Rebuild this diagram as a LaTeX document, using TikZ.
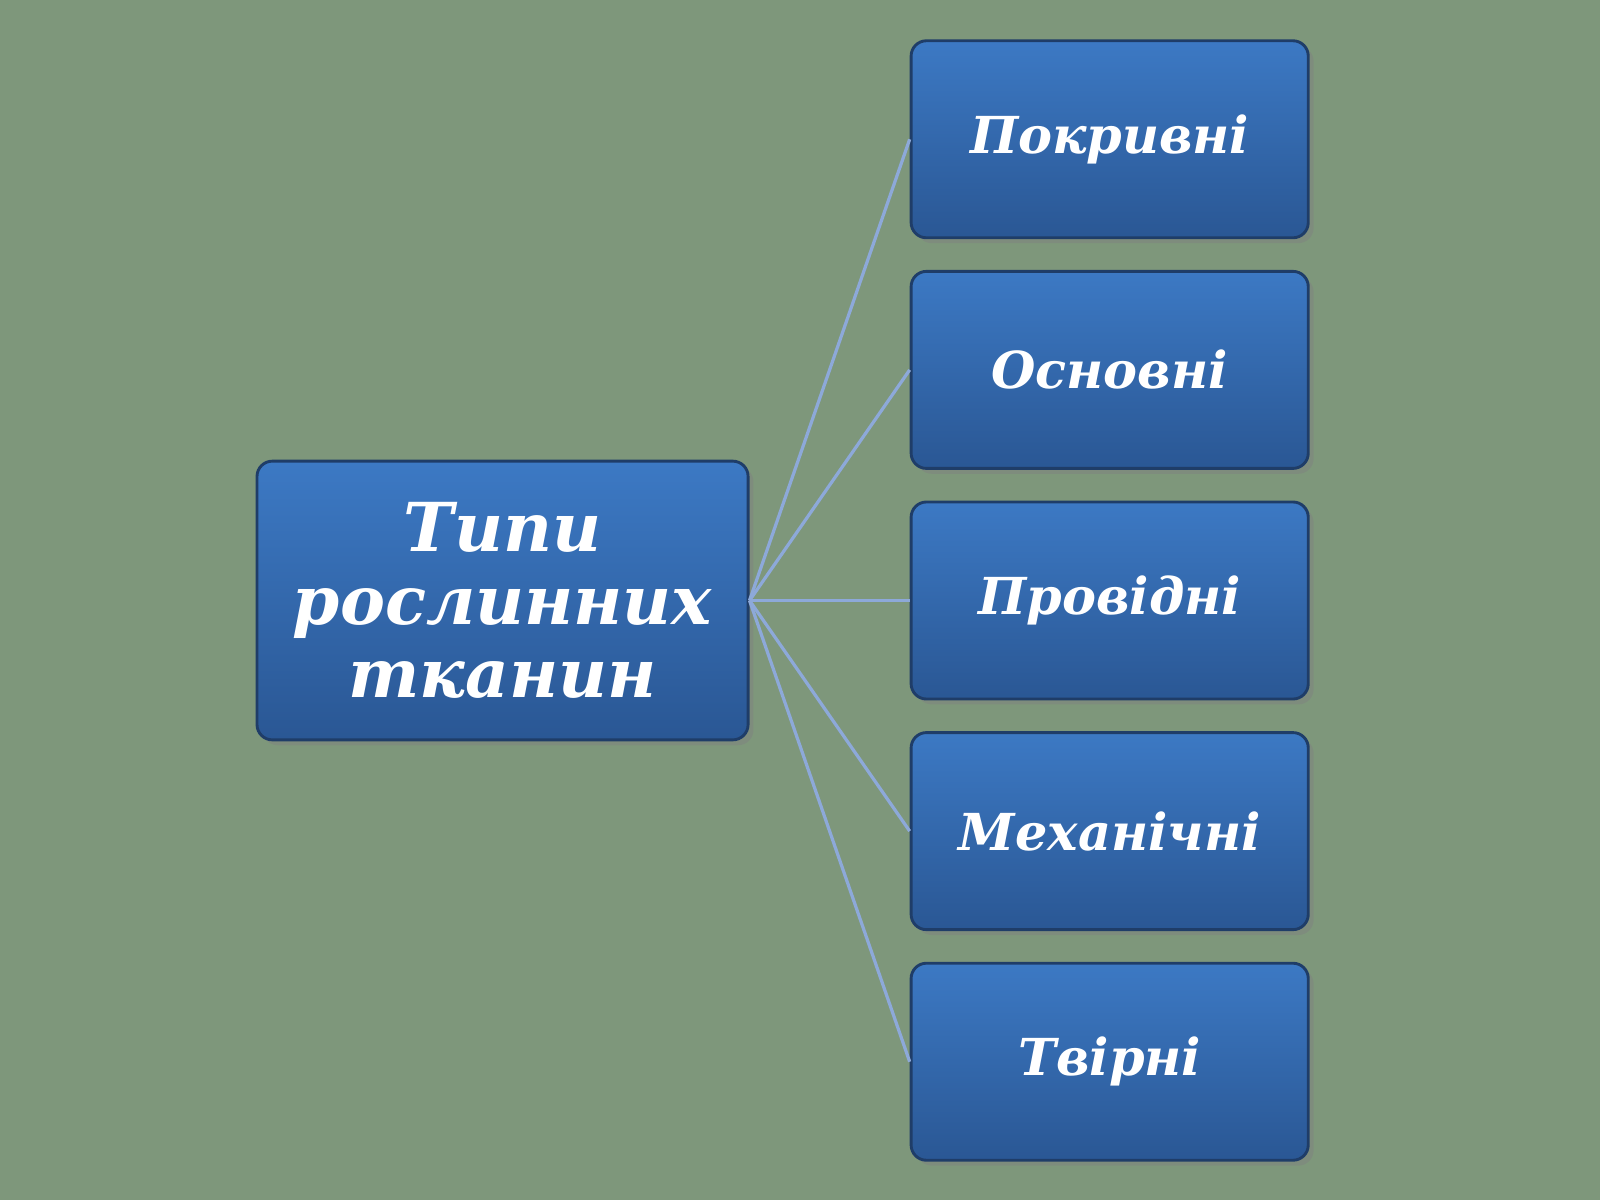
\documentclass[tikz,border=0pt]{standalone}
\usepackage{fontspec}
\setmainfont{DejaVu Serif}
\usetikzlibrary{shadows}

\definecolor{bark}{HTML}{7E977B}
\definecolor{boxtop}{HTML}{3C79C4}
\definecolor{boxbot}{HTML}{2A5794}
\definecolor{boxline}{HTML}{1F3D68}
\definecolor{link}{HTML}{8DA9D9}

\tikzstyle{tissue}=[rectangle, draw=boxline, line width=0.8pt, rounded corners=0.15cm,
  top color=boxtop, bottom color=boxbot, text=white,
  font=\fontsize{14.2}{17}\selectfont\bfseries\itshape,
  minimum width=3.89cm, minimum height=1.93cm,
  drop shadow={shadow xshift=1.5pt, shadow yshift=-1.5pt, opacity=0.45}]
\tikzstyle{rootbox}=[tissue, minimum width=4.81cm, minimum height=2.73cm, align=center,
  font=\fontsize{18.8}{20.3}\selectfont\bfseries\itshape]
\tikzstyle{branch}=[draw=link, line width=0.9pt]

\begin{document}
\begin{tikzpicture}[x=0.01cm, y=-0.01cm]
    \fill[bark] (0,0) rectangle (1568,1176);
    \useasboundingbox (0,0) rectangle (1568,1176);

    \node[rootbox] (types) at (492.5,588.5) {Типи\\рослинних\\тканин};

    \node[tissue] (pokryvni) at (1087.5,136.5) {Покривні};
    \node[tissue] (osnovni) at (1087.5,362.5) {Основні};
    \node[tissue] (providni) at (1087.5,588.5) {Провідні};
    \node[tissue] (mekhanichni) at (1087.5,814.5) {Механічні};
    \node[tissue] (tvirni) at (1087.5,1040.5) {Твірні};

    \foreach \leaf in {pokryvni,osnovni,providni,mekhanichni,tvirni}
        \draw[branch] (types.east) -- (\leaf.west);
\end{tikzpicture}
\end{document}
